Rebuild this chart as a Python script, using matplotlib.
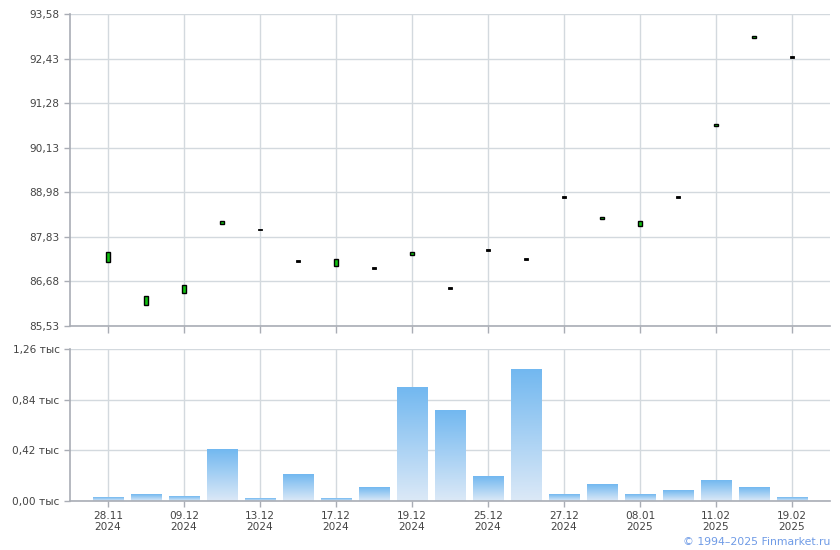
"""Price candles with volume bars, Finmarket style."""

import matplotlib

matplotlib.use("Agg")
import matplotlib.pyplot as plt
import numpy as np
from matplotlib.patches import Rectangle

# --- data ------------------------------------------------------------------
date_labels = ["28.11\n2024", "09.12\n2024", "13.12\n2024", "17.12\n2024",
               "19.12\n2024", "25.12\n2024", "27.12\n2024", "08.01\n2025",
               "11.02\n2025", "19.02\n2025"]
opens = [87.18, 86.08, 86.39, 88.17, 88.02, 87.21, 87.09, 87.03, 87.37, 86.51,
         87.49, 87.26, 88.86, 88.28, 88.10, 88.86, 90.68, 92.95, 92.47]
closes = [87.44, 86.30, 86.59, 88.24, 88.02, 87.21, 87.26, 87.03, 87.44, 86.51,
          87.49, 87.26, 88.86, 88.34, 88.24, 88.86, 90.74, 93.01, 92.47]
volumes = [0.033, 0.058, 0.041, 0.43, 0.017, 0.216, 0.017, 0.116, 0.945, 0.754,
           0.207, 1.094, 0.05, 0.133, 0.05, 0.091, 0.174, 0.116, 0.033]
price_ticks = [85.53, 86.68, 87.83, 88.98, 90.13, 91.28, 92.43, 93.58]
volume_ticks = [0.0, 0.42, 0.84, 1.26]

GRID = "#d3d9de"
SPINE = "#a9adb5"
TXT = "#444444"
FONT = 7.6

n = len(opens)
x = np.arange(n)
label_pos = x[::2]

fig = plt.figure(figsize=(8.4, 5.5), dpi=100)
ax_p = fig.add_axes([70 / 840, 1 - 326 / 550, 760 / 840, 312 / 550])
ax_v = fig.add_axes([70 / 840, 1 - 501 / 550, 760 / 840, 152 / 550])


def style(ax):
    for side in ("top", "right"):
        ax.spines[side].set_visible(False)
    for side in ("left", "bottom"):
        ax.spines[side].set_color(SPINE)
        ax.spines[side].set_linewidth(1.2)
    ax.grid(True, color=GRID, linewidth=1.0)
    ax.set_axisbelow(True)
    ax.set_xlim(-1, n)
    ax.set_xticks(label_pos)
    ax.tick_params(colors=SPINE, labelcolor=TXT, labelsize=FONT, length=4, width=1)


# --- price panel ------------------------------------------------------------
style(ax_p)
ax_p.set_ylim(price_ticks[0], price_ticks[-1])
ax_p.set_yticks(price_ticks)
ax_p.set_yticklabels([f"{v:.2f}".replace(".", ",") for v in price_ticks])
ax_p.set_xticklabels([])
ax_p.tick_params(axis="x", length=5)

body_w = 0.12
for i, (o, c) in enumerate(zip(opens, closes)):
    lo, hi = min(o, c), max(o, c)
    if hi - lo < 0.01:
        ax_p.add_patch(Rectangle((i - body_w / 2, lo - 0.025), body_w, 0.05,
                                 facecolor="black", edgecolor="black", linewidth=0.6,
                                 zorder=3))
    else:
        ax_p.add_patch(Rectangle((i - body_w / 2, lo), body_w, max(hi - lo, 0.05),
                                 facecolor="#10c010", edgecolor="black", linewidth=1.0,
                                 zorder=3))

# --- volume panel -----------------------------------------------------------
style(ax_v)
ax_v.set_ylim(volume_ticks[0], volume_ticks[-1])
ax_v.set_yticks(volume_ticks)
ax_v.set_yticklabels([f"{v:.2f}".replace(".", ",") + " тыс" for v in volume_ticks])
ax_v.set_xticklabels(date_labels, linespacing=1.1)

grad = np.linspace(0, 1, 256).reshape(-1, 1)
cmap = matplotlib.colors.LinearSegmentedColormap.from_list(
    "vol", ["#dce9f7", "#72b8f0"])
bar_w = 0.8
for i, v in enumerate(volumes):
    ax_v.imshow(grad, cmap=cmap, aspect="auto", origin="lower", zorder=2,
                extent=(i - bar_w / 2, i + bar_w / 2, 0, v), interpolation="bilinear")
ax_v.set_xlim(-1, n)
ax_v.set_ylim(volume_ticks[0], volume_ticks[-1])

fig.text(830 / 840, 1 - 542 / 550, "© 1994–2025 Finmarket.ru", ha="right",
         va="center", color="#6f9be6", fontsize=7.8)

fig.savefig("out.png", dpi=100)
